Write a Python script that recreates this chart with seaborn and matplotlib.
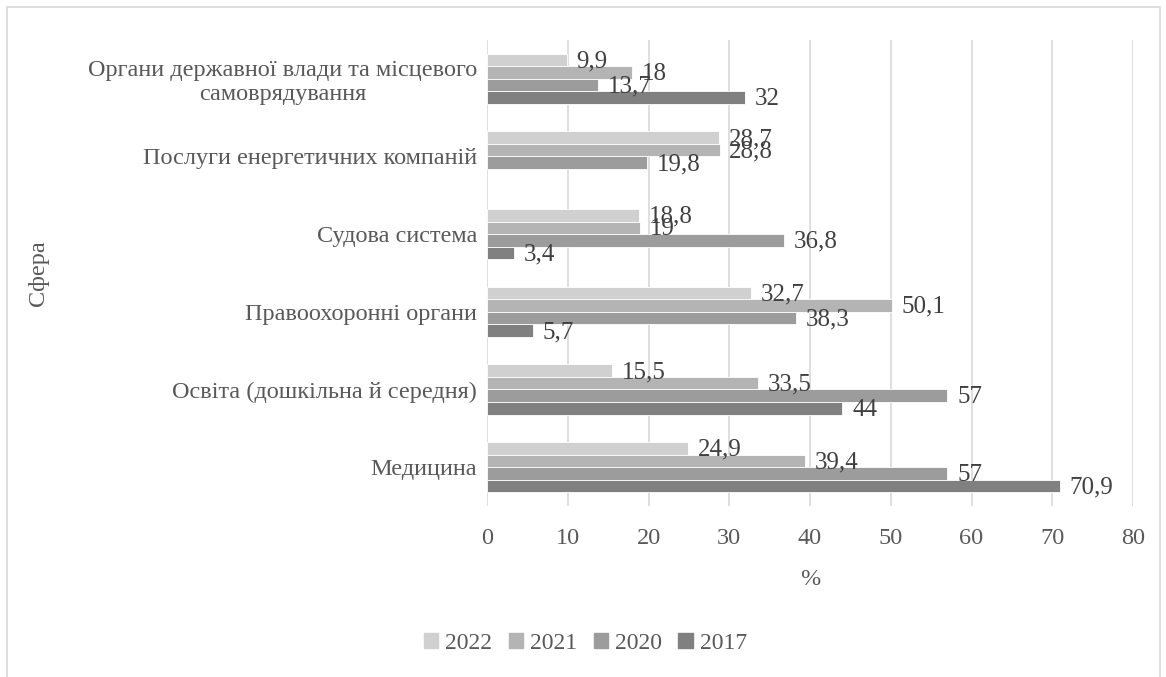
import matplotlib
matplotlib.use("Agg")
import matplotlib.pyplot as plt
import matplotlib.patches as mpatches
import numpy as np
import pandas as pd
import seaborn as sns

categories = [
    "Органи державної влади та місцевого\nсамоврядування",
    "Послуги енергетичних компаній",
    "Судова система",
    "Правоохоронні органи",
    "Освіта (дошкільна й середня)",
    "Медицина",
]
years = ["2022", "2021", "2020", "2017"]
v2022 = [9.9, 28.7, 18.8, 32.7, 15.5, 24.9]
v2021 = [18, 28.8, 19, 50.1, 33.5, 39.4]
v2020 = [13.7, 19.8, 36.8, 38.3, 57, 57]
v2017 = [32, np.nan, 3.4, 5.7, 44, 70.9]
colors = ["#d0d0d0", "#b4b4b4", "#9c9c9c", "#808080"]
xticks = [0, 10, 20, 30, 40, 50, 60, 70, 80]

rows = []
for yr, vals in zip(years, [v2022, v2021, v2020, v2017]):
    for c, v in zip(categories, vals):
        rows.append({"Сфера": c, "Рік": yr, "value": v})
df = pd.DataFrame(rows)

sns.set_theme(style="white")
plt.rcParams["font.family"] = ["Liberation Serif", "DejaVu Serif"]

fs = 17.5
fig = plt.figure(figsize=(11.66, 6.77), dpi=100)
ax = fig.add_axes([0.4177, 0.2526, 0.554, 0.6884])

sns.barplot(data=df, x="value", y="Сфера", hue="Рік", hue_order=years,
            order=categories, palette=colors, orient="h", width=0.645,
            edgecolor="white", linewidth=0.6, ax=ax, legend=True, errorbar=None,
            saturation=1)

ax.set_xlim(0, 80)
ax.set_xticks(xticks)
ax.set_xticklabels([str(t) for t in xticks])
ax.grid(axis="x", color="#d9d9d9", linewidth=1.2)
ax.set_axisbelow(True)
for s in ax.spines.values():
    s.set_visible(False)
ax.tick_params(axis="both", length=0, labelsize=fs, labelcolor="#595959")
ax.tick_params(axis="x", pad=16)
ax.tick_params(axis="y", pad=7)
for lbl in ax.get_yticklabels():
    lbl.set_multialignment("center")

ax.set_xlabel("%", fontsize=fs, color="#595959", labelpad=14)
ax.set_ylabel("Сфера", fontsize=fs, color="#595959")
ax.yaxis.set_label_coords(-0.678, 0.5)

for cont in ax.containers:
    for p in cont.patches:
        w = p.get_width()
        if np.isnan(w) or w == 0:
            continue
        yc = p.get_y() + p.get_height() / 2
        ax.annotate(f"{w:g}".replace(".", ","), xy=(w, yc), xytext=(7, -1),
                    textcoords="offset points", ha="left", va="center",
                    fontsize=18, color="#404040")

leg = ax.get_legend()
leg.remove()
handles = [mpatches.Patch(color=c) for c in colors]
fig.legend(handles, years, loc="center", bbox_to_anchor=(0.502, 0.05), ncol=4,
           frameon=False, fontsize=17, handlelength=0.6, handleheight=0.6,
           handletextpad=0.3, columnspacing=0.7, labelcolor="#595959")

frame = mpatches.Rectangle((7 / 1166, -0.05), (1160 - 7) / 1166, 1.05 - 7 / 677,
                           transform=fig.transFigure, fill=False,
                           edgecolor="#d9d9d9", linewidth=1.2, clip_on=False)
fig.patches.append(frame)

fig.savefig("out.png", dpi=100)
